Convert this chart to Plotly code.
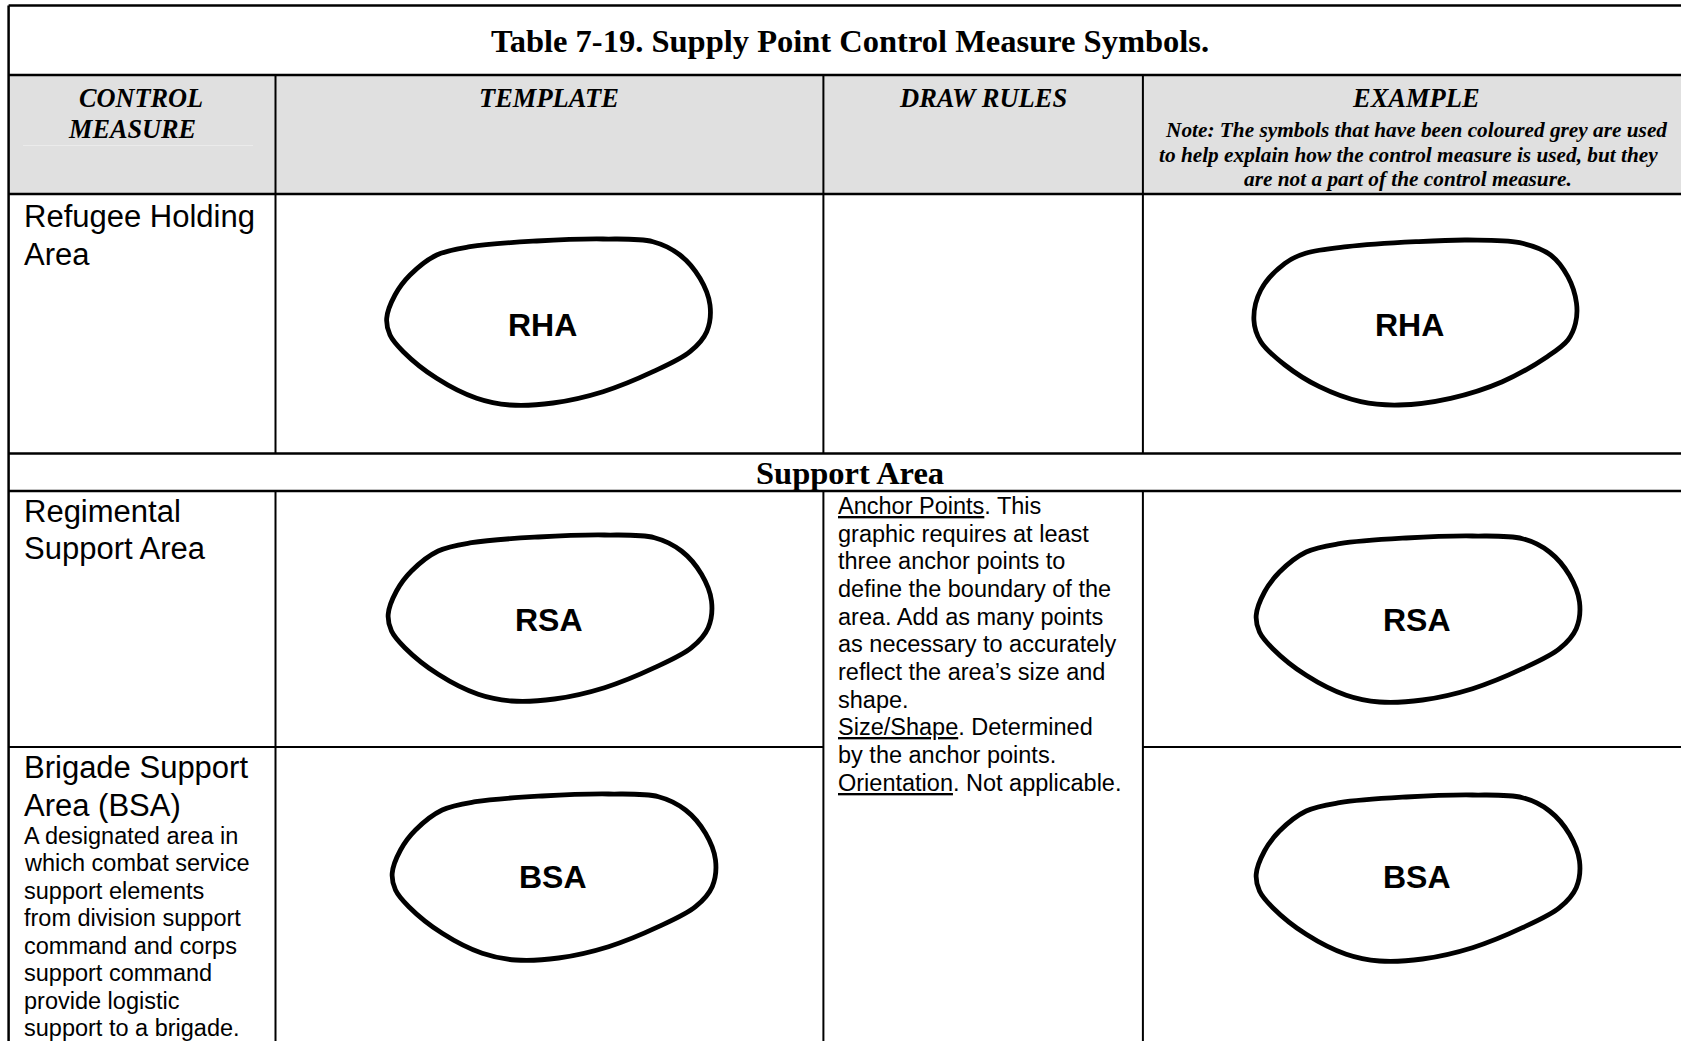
import plotly.graph_objects as go

W, H = 1681, 1041

# ---------------- content ----------------
title_text = "Table 7-19. Supply Point Control Measure Symbols."
control_header_lines = ["CONTROL", "MEASURE"]
header_labels = ["TEMPLATE", "DRAW RULES", "EXAMPLE"]
note_lines = [
    "Note: The symbols that have been coloured grey are used",
    "to help explain how the control measure is used, but they",
    "are not a part of the control measure.",
]
section_label = "Support Area"

measure_names = [
    ["Refugee Holding", "Area"],
    ["Regimental", "Support Area"],
    ["Brigade Support", "Area (BSA)"],
]
bsa_description = [
    "A designated area in",
    "which combat service",
    "support elements",
    "from division support",
    "command and corps",
    "support command",
    "provide logistic",
    "support to a brigade.",
]
draw_rules_lines = [
    "<u>Anchor Points</u>. This",
    "graphic requires at least",
    "three anchor points to",
    "define the boundary of the",
    "area. Add as many points",
    "as necessary to accurately",
    "reflect the area\u2019s size and",
    "shape.",
    "<u>Size/Shape</u>. Determined",
    "by the anchor points.",
    "<u>Orientation</u>. Not applicable.",
]
symbol_labels = ["RHA", "RSA", "BSA"]

# outline of the template area symbol (offsets from its top-left corner, px)
template_dx = [216.5, 266.5, 293.5, 313.5, 323.5, 320.2, 303.5, 266.5, 216.5, 166.5, 123.5,
               90.2, 50.2, 16.8, 3.5, 0.2, 8.5, 23.5, 50.2, 83.5, 150.2, 216.5]
template_dy = [0, 2.7, 16, 39.3, 66, 92.7, 112.7, 132.7, 152.7, 164, 166,
               159.3, 139.3, 112.7, 96, 79.3, 56, 36, 16, 7.7, 2, 0]
# outline of the RHA example symbol
example_dx = [213.9, 265.7, 296.7, 314, 322.6, 321.6, 314, 293.3, 248.4, 196.7, 144.9, 106.9,
              65.5, 31, 6.9, 0, 6.9, 31, 51.7, 93.1, 162.1, 213.9]
example_dy = [0, 2.7, 15, 36.7, 63.3, 83.3, 100, 116.7, 141.7, 158.3, 165, 161.7,
              146.7, 125, 101.7, 80, 50, 23.3, 13.3, 6.7, 1.7, 0]

# ---------------- layout geometry ----------------
col_x = [8.6, 275.5, 823.4, 1142.9, 1690]
row_y = {"top": 5.4, "head": 75, "head_end": 194, "sec": 453.5, "sec_end": 491, "bsa": 747, "bottom": 1100}

# symbol placements: (outline, origin x, origin y, label, label x, label y)
symbols = [
    ("t", 386.5, 239, symbol_labels[0], 542.5, 325),
    ("e", 1253.9, 240, symbol_labels[0], 1409, 325),
    ("t", 388, 535, symbol_labels[1], 549, 620),
    ("t", 1256, 536, symbol_labels[1], 1416.5, 620),
    ("t", 392, 794, symbol_labels[2], 553, 876.5),
    ("t", 1256, 795, symbol_labels[2], 1416.5, 876.5),
]

SERIF = "Liberation Serif"
SANS = "Liberation Sans"

fig = go.Figure()

for kind, ox, oy, lab, lx, ly in symbols:
    dx, dy = (template_dx, template_dy) if kind == "t" else (example_dx, example_dy)
    fig.add_trace(go.Scatter(
        x=[ox + v for v in dx], y=[oy + v for v in dy],
        mode="lines", line=dict(color="black", width=4.8, shape="spline", smoothing=1.0),
        hoverinfo="skip", showlegend=False, cliponaxis=False,
    ))

shapes = []
shapes.append(dict(type="rect", x0=col_x[0], x1=col_x[-1], y0=row_y["head"], y1=row_y["head_end"],
                   fillcolor="#e0e0e0", line=dict(width=0), layer="below"))
shapes.append(dict(type="line", x0=23, x1=253, y0=145.5, y1=145.5, line=dict(color="#ebebeb", width=1)))

def hline(y, x0, x1, w=2.2):
    shapes.append(dict(type="line", x0=x0, x1=x1, y0=y, y1=y, line=dict(color="black", width=w)))

def vline(x, y0, y1, w=2.2):
    shapes.append(dict(type="line", x0=x, x1=x, y0=y0, y1=y1, line=dict(color="black", width=w)))

hline(row_y["top"], col_x[0], col_x[-1], 2.5)
vline(col_x[0], row_y["top"], row_y["bottom"], 2.5)
vline(col_x[-1], row_y["top"], row_y["bottom"], 2.5)
hline(row_y["head"], col_x[0], col_x[-1], 2.5)
hline(row_y["head_end"], col_x[0], col_x[-1], 2.5)
hline(row_y["sec"], col_x[0], col_x[-1], 2.5)
hline(row_y["sec_end"], col_x[0], col_x[-1], 2.5)
hline(row_y["bsa"], col_x[0], col_x[2], 2)
hline(row_y["bsa"], col_x[3], col_x[-1], 2)
for cx in col_x[1:4]:
    vline(cx, row_y["head"], row_y["sec"], 2)
    vline(cx, row_y["sec_end"], row_y["bottom"], 2)

ann = []

def text(x, y, s, size, family, anchor="left", color="black"):
    ann.append(dict(x=x, y=y, xref="x", yref="y", text=s, showarrow=False,
                    xanchor=anchor, yanchor="middle",
                    font=dict(family=family, size=size, color=color)))

text(849.5, 40.5, "<b>" + title_text + "</b>", 32.5, SERIF, "center")
for i, s in enumerate(control_header_lines):
    text([141, 132][i], 98 + i * 31.5, "<b><i>" + s + "</i></b>", 26.3, SERIF, "center")
for i, s in enumerate(header_labels):
    text((col_x[i + 1] + col_x[i + 2]) / 2, 98, "<b><i>" + s + "</i></b>", 26.5, SERIF, "center")
for i, s in enumerate(note_lines):
    text([1416, 1408.5, 1408][i], 130 + i * 24.7, "<b><i>" + s + "</i></b>", 21.3, SERIF, "center")
text(849.5, 473, "<b>" + section_label + "</b>", 32.5, SERIF, "center")

name_y = [216.6, 511.4, 767.6]
for (l1, l2), y in zip(measure_names, name_y):
    text(22, y, l1, 31, SANS)
    text(22, y + 37.5, l2, 31, SANS)
for i, s in enumerate(bsa_description):
    text(22, 835.5 + i * 27.5, s, 23.5, SANS)
for i, s in enumerate(draw_rules_lines):
    text(836, 506 + i * 27.65, s, 23.5, SANS)

for kind, ox, oy, lab, lx, ly in symbols:
    text(lx, ly, "<b>" + lab + "</b>", 32, SANS, "center")

fig.update_layout(
    width=W, height=H, margin=dict(l=0, r=0, t=0, b=0),
    paper_bgcolor="white", plot_bgcolor="white",
    xaxis=dict(range=[0, W], visible=False, fixedrange=True),
    yaxis=dict(range=[H, 0], visible=False, fixedrange=True),
    shapes=shapes, annotations=ann, showlegend=False, hovermode=False,
)

fig.write_html(
    "out.html",
    config={"displayModeBar": False},
    post_script="document.body.style.margin='0';document.documentElement.style.overflow='hidden';document.body.style.overflow='hidden';",
)
